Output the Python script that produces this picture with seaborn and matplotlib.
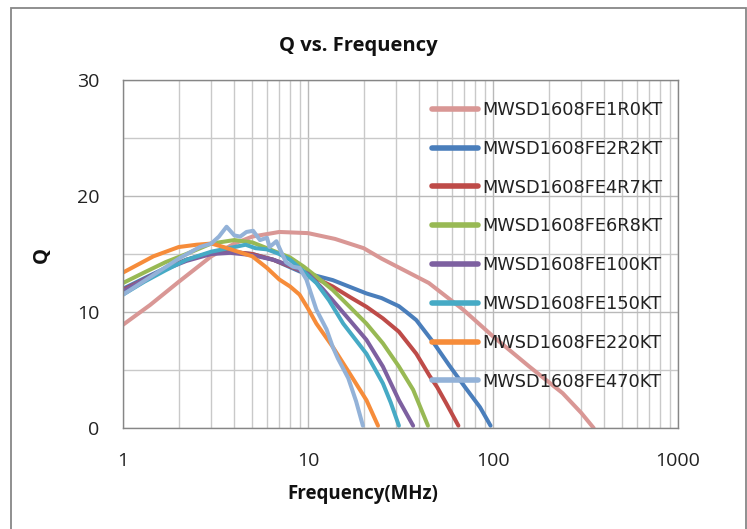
import matplotlib
matplotlib.use("Agg")
import matplotlib.pyplot as plt
from matplotlib.patches import Rectangle
from matplotlib.ticker import FixedLocator, NullFormatter
import seaborn as sns
import pandas as pd

# ---- data ----
series_names = ["MWSD1608FE1R0KT", "MWSD1608FE2R2KT", "MWSD1608FE4R7KT", "MWSD1608FE6R8KT",
                "MWSD1608FE100KT", "MWSD1608FE150KT", "MWSD1608FE220KT", "MWSD1608FE470KT"]
series_colors = ["#D99795", "#4A7EBB", "#BE4B48", "#98B954", "#7D60A0", "#46AAC5", "#F68C3A", "#93B2D8"]

f_1r0 = [1, 1.4, 2, 3, 4, 5, 7, 10, 14, 20, 25, 35, 45, 69, 100, 157, 238, 300, 350]
q_1r0 = [8.9, 10.6, 12.6, 14.8, 15.9, 16.5, 16.9, 16.8, 16.3, 15.5, 14.6, 13.4, 12.5, 10.2, 7.9, 5.3, 3.0, 1.3, 0.0]

f_2r2 = [1, 1.3, 1.7, 2.2, 3, 3.8, 5, 6.5, 9, 13.6, 20.7, 25, 31, 34, 38.5, 47, 58, 70, 85, 97]
q_2r2 = [12.0, 12.9, 13.8, 14.5, 15.1, 15.2, 15.0, 14.5, 13.5, 12.75, 11.6, 11.2, 10.5, 10.0, 9.3, 7.5, 5.4, 3.6, 1.8, 0.2]

f_4r7 = [1, 1.3, 1.7, 2.2, 3, 3.8, 5, 6.5, 9, 13.6, 16.8, 20.7, 25.4, 31, 38.5, 45.4, 50, 56, 65]
q_4r7 = [11.9, 12.8, 13.7, 14.5, 15.1, 15.2, 15.0, 14.5, 13.6, 12.2, 11.3, 10.45, 9.45, 8.3, 6.4, 4.5, 3.5, 2.1, 0.2]

f_6r8 = [1, 1.3, 1.7, 2.2, 3, 4, 5, 6, 8, 9.5, 11, 13.6, 16.8, 20.7, 25.4, 31, 37, 44.5]
q_6r8 = [12.5, 13.4, 14.3, 15.0, 15.9, 16.2, 16.0, 15.5, 14.7, 13.9, 13.1, 11.9, 10.45, 9.0, 7.3, 5.3, 3.3, 0.2]

f_100 = [1, 1.3, 1.7, 2.2, 3, 3.8, 5, 6.5, 8, 10, 12, 13.6, 16.8, 20.7, 25.4, 31, 37]
q_100 = [11.8, 12.8, 13.7, 14.4, 15.0, 15.1, 14.9, 14.5, 14.0, 13.3, 12.0, 11.0, 9.3, 7.6, 5.3, 2.4, 0.2]

f_150 = [1, 1.3, 1.7, 2.2, 3, 4, 4.6, 5.2, 6, 7, 8, 9, 11.1, 13, 15.5, 20.7, 25.4, 28, 31]
q_150 = [11.5, 12.6, 13.6, 14.5, 15.2, 15.6, 15.8, 15.5, 15.4, 15.0, 14.5, 13.8, 12.5, 11.0, 9.0, 6.4, 3.85, 2.2, 0.2]

f_220 = [1, 1.46, 2, 2.5, 3, 3.5, 4, 5, 6, 7, 8, 9, 10, 11.1, 13.6, 16.8, 20.7, 23.9]
q_220 = [13.4, 14.8, 15.6, 15.8, 15.9, 15.6, 15.3, 14.8, 13.8, 12.8, 12.2, 11.5, 10.3, 9.0, 7.0, 4.7, 2.4, 0.2]

f_470 = [1, 1.4, 2, 2.6, 3, 3.3, 3.63, 4, 4.3, 4.65, 5.05, 5.5, 6, 6.2, 6.75, 7.2, 7.6, 8.3, 9,
         9.8, 11.1, 12.6, 13.6, 14.5, 16.5, 18.2, 19.8]
q_470 = [11.5, 13.0, 14.6, 15.6, 15.9, 16.5, 17.35, 16.6, 16.5, 16.9, 17.0, 16.2, 16.4, 15.6, 16.1,
         15.1, 14.3, 13.9, 13.8, 12.8, 10.2, 8.5, 7.0, 6.0, 4.3, 2.3, 0.2]

x_ticks = [1, 10, 100, 1000]
x_tick_labels = ["1", "10", "100", "1000"]
y_ticks = [0, 10, 20, 30]
y_tick_labels = ["0", "10", "20", "30"]

all_f = [f_1r0, f_2r2, f_4r7, f_6r8, f_100, f_150, f_220, f_470]
all_q = [q_1r0, q_2r2, q_4r7, q_6r8, q_100, q_150, q_220, q_470]

rows = []
for name, fs, qs in zip(series_names, all_f, all_q):
    for fv, qv in zip(fs, qs):
        rows.append({"series": name, "f": fv, "Q": qv})
df = pd.DataFrame(rows)

# ---- figure ----
sns.set_theme(style="white")
plt.rcParams["font.family"] = ["Open Sans", "DejaVu Sans"]

W, H = 747, 529
fig = plt.figure(figsize=(W / 100, H / 100), dpi=100)
fig.patch.set_facecolor("white")

L, R, T, B = 123, 678, 80, 428
ax = fig.add_axes([L / W, 1 - B / H, (R - L) / W, (B - T) / H])

# outer chart border
fig.patches.append(Rectangle((11 / W, -0.05), (746 - 11) / W, 1.05 - 8 / H,
                             transform=fig.transFigure, fill=False,
                             edgecolor="#878787", linewidth=1.3))

sns.lineplot(data=df, x="f", y="Q", hue="series", hue_order=series_names,
             palette=dict(zip(series_names, series_colors)), sort=False,
             estimator=None, units="series", linewidth=2.9, ax=ax, legend=True)

ax.set_xscale("log")
ax.set_xlim(1, 1000)
ax.set_ylim(0, 30)

ax.xaxis.set_major_locator(FixedLocator(x_ticks))
ax.set_xticklabels(x_tick_labels)
minor_x = [m * 10 ** e for e in range(0, 3) for m in range(2, 10)]
ax.xaxis.set_minor_locator(FixedLocator(minor_x))
ax.xaxis.set_minor_formatter(NullFormatter())
ax.yaxis.set_major_locator(FixedLocator(y_ticks))
ax.set_yticklabels(y_tick_labels)
ax.yaxis.set_minor_locator(FixedLocator([5, 15, 25]))

ax.grid(True, which="major", color="#B9B9B9", linewidth=1.0)
ax.grid(True, which="minor", color="#C9C9C9", linewidth=1.0)
ax.set_axisbelow(True)

for sp in ax.spines.values():
    sp.set_color("#868686")
    sp.set_linewidth(1.0)

ax.tick_params(axis="both", which="both", length=0, labelsize=14, labelcolor="#222222")
ax.tick_params(axis="x", pad=17)
ax.tick_params(axis="y", pad=17)

ax.set_xlabel("")
ax.set_ylabel("")

fig.text(358 / W, 1 - 46 / H, "Q vs. Frequency", ha="center", va="center",
         fontsize=14.5, fontweight="bold", color="#111111")
fig.text(363 / W, 1 - 494 / H, "Frequency(MHz)", ha="center", va="center",
         fontsize=13.5, fontweight="bold", color="#111111")
fig.text(42 / W, 1 - 255 / H, "Q", ha="center", va="center", rotation=90,
         fontsize=14.5, fontweight="bold", color="#111111")

handles, labels = ax.get_legend_handles_labels()
for h in handles:
    h.set_linewidth(4.0)
leg = ax.legend(handles, labels, loc="upper left",
                bbox_to_anchor=(432 / W, 1 - 101 / H), bbox_transform=fig.transFigure,
                frameon=False, borderpad=0, borderaxespad=0,
                handlelength=2.6, handletextpad=0.25, labelspacing=1.17,
                prop={"family": "DejaVu Sans", "size": 12.8})
for t in leg.get_texts():
    t.set_color("#222222")

fig.savefig("out.png", dpi=100, facecolor="white")
